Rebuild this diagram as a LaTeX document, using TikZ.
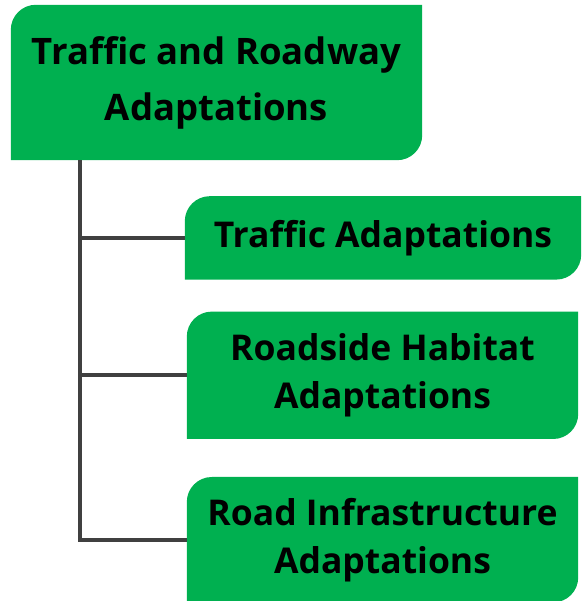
\documentclass[tikz,border=0pt]{standalone}
\usepackage{fontspec}
\setmainfont{Open Sans}
\usetikzlibrary{positioning}
\usetikzlibrary{backgrounds}
\definecolor{boxgreen}{RGB}{0,176,80}
\definecolor{linegray}{RGB}{64,64,64}

\tikzset{
  greenbox/.style={inner sep=0, align=center, text=black, font=\bfseries\fontsize{35.5}{48}\selectfont},
  trunkline/.style={draw=linegray, line width=4},
}

\begin{document}
\begin{tikzpicture}[x=1pt, y=1pt]
        \useasboundingbox (0,0) rectangle (581,601);
        % nodes %
        \node[greenbox, minimum width=411, minimum height=155, font=\bfseries\fontsize{36.5}{56}\selectfont] (top) at (216.5,518.5) {Traffic and Roadway\\Adaptations};
        \node[greenbox, minimum width=396, minimum height=83, below right=36 and 174 of top.south west] (traf) {Traffic Adaptations};
        \node[greenbox, minimum width=391, minimum height=127, below right=32 and 2 of traf.south west] (road) {Roadside Habitat\\Adaptations};
        \node[greenbox, minimum width=391, minimum height=125, below right=38 and 0 of road.south west] (infra) {Road Infrastructure\\Adaptations};

        % boxes %
        \begin{scope}[on background layer]
        \foreach \n in {top,traf,road,infra}
          \fill[boxgreen] (\n.south west) -- ([yshift=-25]\n.north west) arc[start angle=180, end angle=90, radius=25] -- (\n.north east) -- ([yshift=25]\n.south east) arc[start angle=0, end angle=-90, radius=25] -- cycle;
        \end{scope}

        % edges %
        \coordinate[right=69 of top.south west] (trunk);
        \draw[trunkline] (trunk) |- (infra.west);
        \draw[trunkline] (trunk |- traf.west) -- (traf.west);
        \draw[trunkline] (trunk |- road.west) -- (road.west);
      \end{tikzpicture}
\end{document}
